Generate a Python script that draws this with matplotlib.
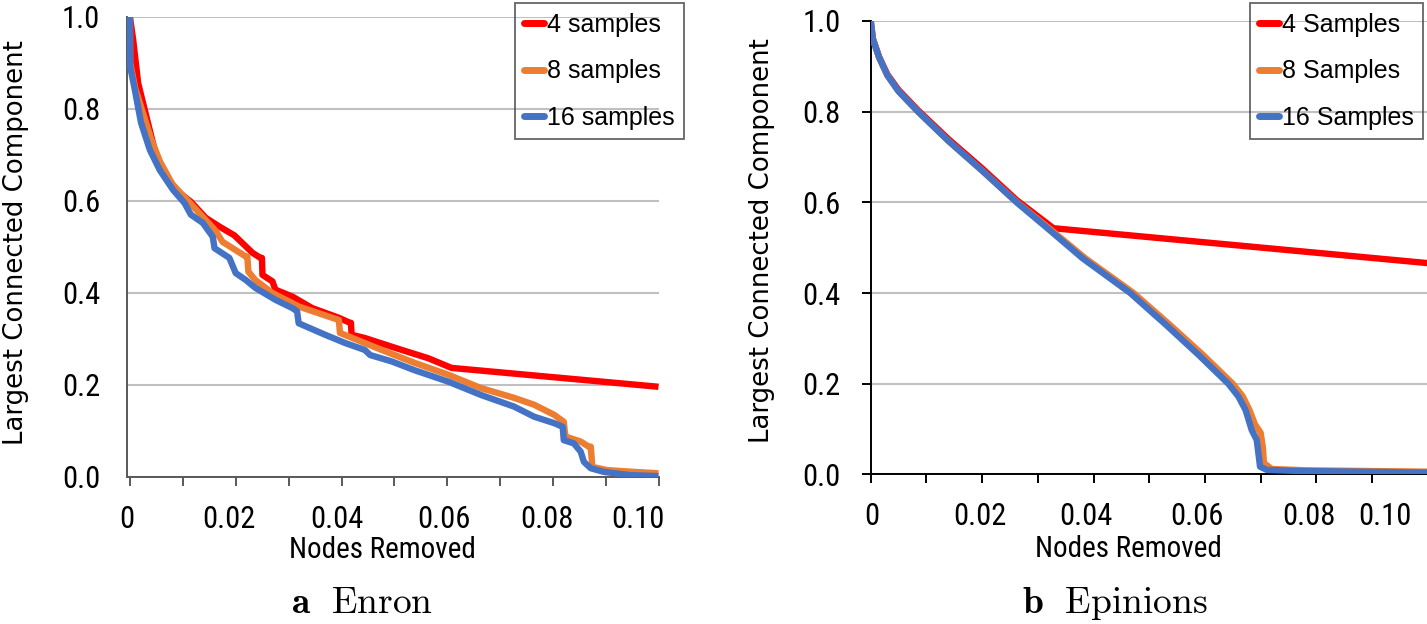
import numpy as np
import matplotlib
matplotlib.use("Agg")
import matplotlib.pyplot as plt
from matplotlib import font_manager as fm

plt.rcParams['mathtext.fontset'] = 'cm'

# ---------------- data ----------------
# x: fraction of nodes removed, y: relative size of largest connected component
enron_4_x = [0.0, 0.00062, 0.00156, 0.00312, 0.005, 0.00626, 0.0094, 0.01152, 0.01434, 0.01692,
             0.01974, 0.02318, 0.02468, 0.02496, 0.02506, 0.02694, 0.0275, 0.0307, 0.03445,
             0.03947, 0.0416, 0.04178, 0.0419, 0.0444, 0.0495, 0.0514, 0.0564, 0.0608, 0.0999]
enron_4_y = [1.0, 0.95, 0.856, 0.783, 0.696, 0.66, 0.617, 0.598, 0.563, 0.544,
             0.525, 0.487, 0.476, 0.476, 0.439, 0.425, 0.407, 0.392, 0.367,
             0.346, 0.335, 0.335, 0.309, 0.302, 0.283, 0.276, 0.258, 0.237, 0.196]

enron_8_x = [0.0, 0.00006, 0.001, 0.0025, 0.004, 0.0057, 0.0081, 0.011, 0.0138, 0.0162,
             0.0175, 0.0204, 0.0219, 0.0222, 0.0224, 0.0237, 0.0269, 0.032, 0.0395, 0.0397,
             0.0444, 0.0476, 0.0538, 0.0602, 0.0664, 0.0726, 0.0764, 0.0802, 0.082, 0.0823,
             0.0852, 0.0867, 0.0871, 0.0874, 0.0902, 0.0946, 0.0999]
enron_8_y = [1.0, 0.90, 0.845, 0.79, 0.735, 0.685, 0.635, 0.6, 0.565, 0.535,
             0.511, 0.49, 0.479, 0.479, 0.446, 0.428, 0.40, 0.37, 0.341, 0.313,
             0.291, 0.276, 0.248, 0.222, 0.193, 0.172, 0.157, 0.135, 0.12, 0.088,
             0.077, 0.066, 0.066, 0.022, 0.015, 0.0116, 0.008]

enron_16_x = [0.0, 0.00005, 0.00094, 0.0021, 0.00376, 0.00564, 0.00814, 0.01034, 0.01152, 0.01378,
              0.01566, 0.016, 0.0188, 0.02, 0.0219, 0.0237, 0.0275, 0.0307, 0.0316, 0.0319,
              0.0369, 0.0407, 0.0444, 0.0454, 0.0495, 0.0538, 0.0602, 0.0664, 0.0726, 0.0764,
              0.0802, 0.0818, 0.082, 0.0839, 0.0852, 0.0858, 0.0871, 0.0896, 0.0946, 0.0999]
enron_16_y = [1.0, 0.892, 0.841, 0.77, 0.711, 0.667, 0.624, 0.595, 0.57, 0.552,
              0.522, 0.497, 0.476, 0.443, 0.428, 0.411, 0.385, 0.367, 0.36, 0.334,
              0.309, 0.291, 0.276, 0.265, 0.251, 0.232, 0.207, 0.178, 0.153, 0.131,
              0.117, 0.109, 0.08, 0.073, 0.055, 0.033, 0.019, 0.011, 0.004, 0.002]

epin_4_x = [0.0, 0.0004, 0.0015, 0.003, 0.005, 0.0085, 0.014, 0.02, 0.0262, 0.0328, 0.1]
epin_4_y = [1.0, 0.96, 0.921, 0.882, 0.848, 0.803, 0.739, 0.675, 0.605, 0.543, 0.466]

epin_8_x = [0.0, 0.0004, 0.0015, 0.003, 0.005, 0.0085, 0.014, 0.02, 0.0263, 0.0323,
            0.0385, 0.0472, 0.0537, 0.0598, 0.065, 0.0668, 0.068, 0.069, 0.07, 0.0704,
            0.0706, 0.072, 0.078, 0.1]
epin_8_y = [1.0, 0.96, 0.92, 0.88, 0.845, 0.80, 0.735, 0.67, 0.6, 0.54,
            0.477, 0.40, 0.33, 0.262, 0.20, 0.172, 0.142, 0.11, 0.092, 0.06,
            0.025, 0.012, 0.009, 0.006]

epin_16_x = [0.0, 0.0004, 0.0015, 0.003, 0.005, 0.0085, 0.014, 0.02, 0.0262, 0.032,
             0.038, 0.0466, 0.053, 0.059, 0.0642, 0.066, 0.0673, 0.0684, 0.0693, 0.0696,
             0.0699, 0.0711, 0.0765, 0.1]
epin_16_y = [1.0, 0.96, 0.92, 0.88, 0.845, 0.80, 0.735, 0.67, 0.6, 0.54,
             0.477, 0.40, 0.33, 0.262, 0.20, 0.172, 0.142, 0.098, 0.076, 0.047,
             0.017, 0.010, 0.0077, 0.004]

enron_labels = ["4 samples", "8 samples", "16 samples"]
epin_labels = ["4 Samples", "8 Samples", "16 Samples"]
x_tick_labels = ["0", "0.02", "0.04", "0.06", "0.08", "0.10"]
y_ticks = [0.0, 0.2, 0.4, 0.6, 0.8, 1.0]
captions = [r"$\mathbf{a}\ \ \mathrm{Enron}$", r"$\mathbf{b}\ \ \mathrm{Epinions}$"]

colors = ["#FF0000", "#ED7D31", "#4472C4"]

# layout (positions of the shifted tick labels as they appear in the chart)
enron_label_pos = [-0.0006, 0.0187, 0.0392, 0.0593, 0.0788, 0.096]
epin_label_pos = [0.0002, 0.0196, 0.0387, 0.0585, 0.0786, 0.0923]

# ---- choose a condensed sans font if one is installed ----
_fonts = fm.fontManager.ttflist
_names = {f.name for f in _fonts}
cond_props = None
for nm in ['Liberation Sans Narrow', 'Roboto Condensed', 'Open Sans Condensed',
           'Noto Sans Condensed', 'DejaVu Sans Condensed']:
    if nm in _names:
        cond_props = dict(family=[nm, 'DejaVu Sans'])
        break
if cond_props is None:
    for f in _fonts:
        if f.stretch in ('condensed', 'semi-condensed', 'extra-condensed', 500 - 100, 300, 200) \
                and f.style == 'normal' and f.weight in (400, 'normal', 'regular'):
            cond_props = dict(family=[f.name, 'DejaVu Sans'], stretch=f.stretch)
            break
if cond_props is None:
    cond_props = dict(family=['Liberation Sans', 'DejaVu Sans'])
    cond_found = False
else:
    cond_found = True

W, H = 1427, 624
fig = plt.figure(figsize=(W / 100, H / 100), dpi=100)


def frac(x0, y_top, x1, y_bot):
    return [x0 / W, 1 - y_bot / H, (x1 - x0) / W, (y_bot - y_top) / H]


ax1 = fig.add_axes(frac(126.7, 16.7, 659.0, 477.0))
ax2 = fig.add_axes(frac(870.7, 21.0, 1427.7, 474.4))

tick_font = dict(cond_props, size=22 if cond_found else 20)


def style(ax, series, labels, label_pos, spine_col, ytick_len):
    for (x, y), c, lab in zip(series, colors, labels):
        ax.plot(x, y, color=c, lw=4.6, label=lab, solid_joinstyle='round',
                solid_capstyle='butt', zorder=3)
    ax.set_xlim(0, 0.1)
    ax.set_ylim(0, 1.0)
    for s in ['top', 'right']:
        ax.spines[s].set_visible(False)
    for s in ['left', 'bottom']:
        ax.spines[s].set_color(spine_col)
        ax.spines[s].set_linewidth(1.4)
        ax.spines[s].set_zorder(2)
    ax.set_yticks(y_ticks)
    ax.set_yticklabels([f"{v:.1f}" for v in y_ticks], fontdict=tick_font)
    ax.tick_params(axis='y', length=ytick_len, width=1.4, color=spine_col,
                   pad=(27 - ytick_len * 1.389) / 1.389 + 2 if ytick_len else 19)
    ax.grid(axis='y', color='#C0C0C0', lw=1.5, zorder=1)
    ax.set_axisbelow(True)
    ax.set_xticks(np.arange(0, 0.1001, 0.01))
    ax.set_xticklabels([])
    ax.tick_params(axis='x', which='major', length=6.5, width=1.4, color=spine_col, direction='out')
    ax.set_xticks(label_pos, minor=True)
    ax.set_xticklabels(x_tick_labels, minor=True, fontdict=tick_font)
    ax.tick_params(axis='x', which='minor', length=0, pad=20)


style(ax1, [(enron_4_x, enron_4_y), (enron_8_x, enron_8_y), (enron_16_x, enron_16_y)],
      enron_labels, enron_label_pos, '#595959', 0)
style(ax2, [(epin_4_x, epin_4_y), (epin_8_x, epin_8_y), (epin_16_x, epin_16_y)],
      epin_labels, epin_label_pos, '#000000', 6.5)

leg_font = dict(family=['Liberation Sans', 'DejaVu Sans'], size=18)
for ax, right in [(ax1, 684), (ax2, 1423)]:
    leg = ax.legend(loc='upper right', bbox_to_anchor=(right / W, 1 - 3.3 / H),
                    bbox_transform=fig.transFigure, prop=leg_font, frameon=True,
                    fancybox=False, borderaxespad=0, handlelength=0.8,
                    handletextpad=0.1, labelspacing=0.9, borderpad=0.38)
    leg.get_frame().set_facecolor('none')
    leg.get_frame().set_edgecolor('#404040')
    leg.get_frame().set_linewidth(1.3)
    for h in leg.get_lines():
        h.set_linewidth(5)
        h.set_solid_capstyle('round')

# axis titles
xl_font = dict(cond_props, size=21) if cond_found else dict(family=['Liberation Sans', 'DejaVu Sans'], size=18.5)
fig.text(382 / W, 1 - 550 / H, "Nodes Removed", ha='center', va='center', fontdict=xl_font)
fig.text(1128 / W, 1 - 549 / H, "Nodes Removed", ha='center', va='center', fontdict=xl_font)
yl_font = dict(family=['DejaVu Sans'], size=18.7)
fig.text(16 / W, 1 - 243 / H, "Largest Connected Component", rotation=90,
         ha='center', va='center', fontdict=yl_font)
fig.text(762 / W, 1 - 241 / H, "Largest Connected Component", rotation=90,
         ha='center', va='center', fontdict=yl_font)

# sub-captions
fig.text(362 / W, 1 - 603 / H, captions[0], ha='center', va='center', fontsize=27)
fig.text(1115 / W, 1 - 603 / H, captions[1], ha='center', va='center', fontsize=27)

fig.savefig("out.png", dpi=100, facecolor='white')
